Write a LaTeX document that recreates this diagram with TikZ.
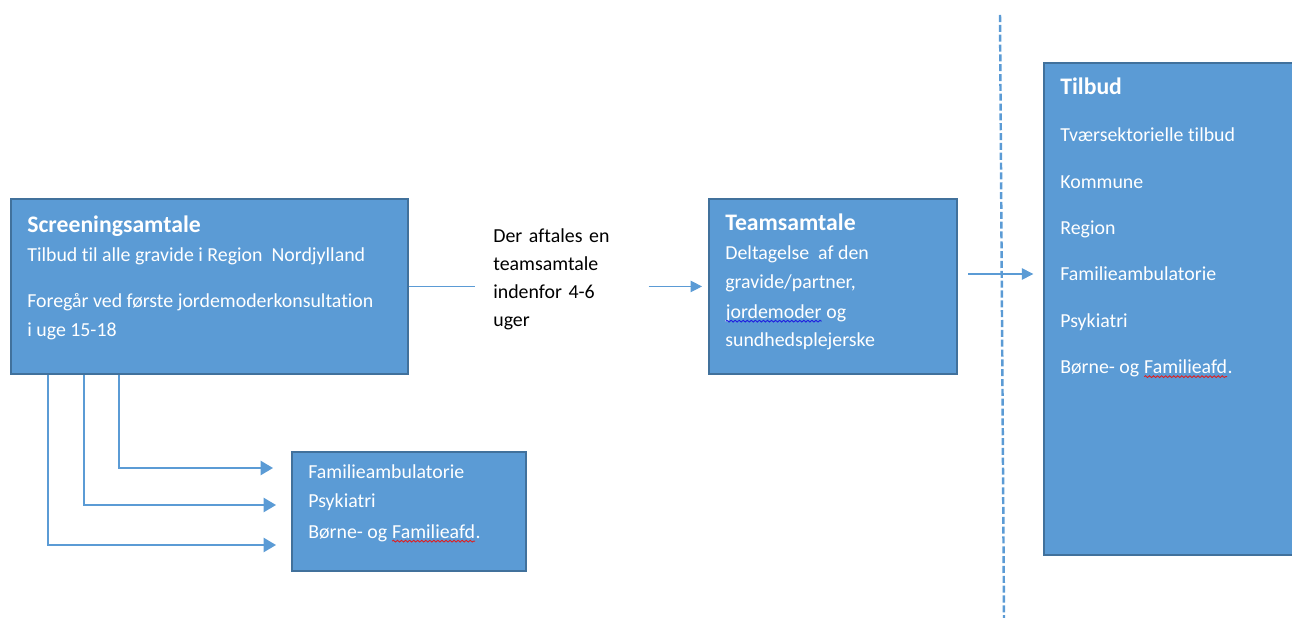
\documentclass[tikz,border=0pt]{standalone}
\usepackage{fontspec}
\setmainfont{Carlito}[Ligatures=NoCommon]
\usetikzlibrary{arrows.meta,decorations.pathmorphing}

\definecolor{boxfill}{RGB}{91,155,213}
\definecolor{boxedge}{RGB}{65,113,156}
\definecolor{linkblue}{RGB}{91,155,213}
\definecolor{spellred}{RGB}{225,30,30}
\definecolor{spellblue}{RGB}{30,30,225}

% wavy spell-check underline
\newcommand{\wavy}[2]{\tikz[baseline=(wv.base)]{\node[inner sep=0pt,outer sep=0pt] (wv) {#2};
  \draw[#1,line width=0.5pt,decorate,decoration={snake,amplitude=0.5pt,segment length=2.3pt}]
    ([yshift=-1.8pt]wv.base west) -- ([yshift=-1.8pt]wv.base east);}}

\begin{document}
\begin{tikzpicture}[x=0.02cm,y=-0.02cm,
    box/.style={draw=boxedge,fill=boxfill,line width=1.1pt,anchor=north west,inner sep=0pt},
    hdtxt/.style={anchor=base west,inner sep=0pt,text=white,font=\fontsize{13.5}{16}\selectfont\bfseries},
    txt/.style={anchor=base west,inner sep=0pt,text=white,font=\fontsize{11.3}{14}\selectfont},
    midtxt/.style={anchor=west,inner ysep=0pt,inner xsep=0.36cm,text width=2.74cm,align=left,font=\fontsize{11.3}{15.9}\selectfont},
    link/.style={draw=linkblue,line width=0.6pt},
    tip/.style={-{Triangle[length=6.5pt,width=6.5pt]}},
    elbow/.style={draw=linkblue,line width=1.2pt,-{Triangle[length=7pt,width=8pt]}},
    divider/.style={draw=linkblue,line width=1.4pt,dash pattern=on 4pt off 1.6pt}]

    \useasboundingbox (0,0) rectangle (1292,618);
    \clip (0,0) rectangle (1292,618);

    % boxes
    \node[box,minimum width=7.94cm,minimum height=3.5cm] (scr) at (10,198) {};
    \node[box,minimum width=4.96cm,minimum height=3.5cm] (team) at (708,198) {};
    \node[box,minimum width=4.68cm,minimum height=2.38cm] (sec) at (291,451) {};
    \node[box,minimum width=5.4cm,minimum height=9.84cm] (tilbud) at (1043,62) {};

    % screeningsamtale
    \node[hdtxt] (scr-title) at (27,233) {Screeningsamtale};
    \node[txt] (scr-1) at (27,262) {Tilbud til alle gravide i Region\ \ Nordjylland};
    \node[txt] (scr-2) at (27,308) {Foregår ved første jordemoderkonsultation};
    \node[txt] (scr-3) at (27,337) {i uge 15-18};

    % teamsamtale
    \node[hdtxt] (team-title) at (725,231) {Teamsamtale};
    \node[txt] (team-1) at (725,260) {Deltagelse\ \ af den};
    \node[txt] (team-2) at (725,289) {gravide/partner,};
    \node[txt] (team-3) at (725,318) {\wavy{spellblue}{jordemoder} og};
    \node[txt] (team-4) at (725,346) {sundhedsplejerske};

    % sekundaer henvisning
    \node[txt] (sec-1) at (308,478) {Familieambulatorie};
    \node[txt] (sec-2) at (308,507) {Psykiatri};
    \node[txt] (sec-3) at (308,538) {Børne- og \wavy{spellred}{Familieafd}.};

    % tilbud
    \node[hdtxt] (tilbud-title) at (1060,95) {Tilbud};
    \foreach \item [count=\i] in {Tværsektorielle tilbud,Kommune,Region,Familieambulatorie,Psykiatri,{Børne- og \wavy{spellred}{Familieafd}.}}
        \node[txt] (tilbud-\i) at (1060,{142+46.3*(\i-1)}) {\item};

    % mellemtekst
    \node[midtxt] (mid) at (475,279) {Der aftales en\\teamsamtale\\indenfor 4-6\\uger};

    \draw[link] (scr.east) -- (scr.east -| mid.west);
    \draw[link,tip,shorten >=3.4pt] (mid.east |- team.west) -- (team.west);

    % skillelinje
    \coordinate (divtop) at (1000,15);
    \coordinate (divbot) at (1004,618);
    \coordinate (cross) at (1001,274);
    \draw[divider] (divtop) -- (divbot);
    \draw[link,tip,shorten <=6pt,shorten >=5.5pt] (team.east |- cross) -- (tilbud.west |- cross);

    % henvisninger fra screening
    \coordinate (in-fam) at (273,468);
    \coordinate (in-psy) at (276,505);
    \coordinate (in-bf) at (276,545);
    \draw[elbow] ([xshift=2.18cm]scr.south west) |- (in-fam);
    \draw[elbow] ([xshift=1.48cm]scr.south west) |- (in-psy);
    \draw[elbow] ([xshift=0.76cm]scr.south west) |- (in-bf);
\end{tikzpicture}
\end{document}
